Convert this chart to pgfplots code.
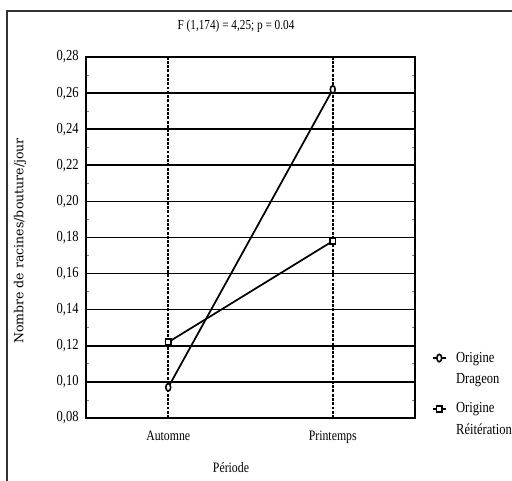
\documentclass[border=0pt]{standalone}
\usepackage{pgfplots}
\pgfplotsset{compat=1.18}
\usepackage{fontspec}
\setmainfont{Liberation Serif}[FakeStretch=0.82]
\newfontfamily\ylabfont{DejaVu Serif}
\begin{document}
\begin{tikzpicture}[x=0.75pt,y=0.75pt]
\useasboundingbox (0,0) rectangle (512,481);
\draw[line width=0.8pt, black!80] (7,-10) -- (7,470) -- (520,470);
\node[font=\fontsize{10.3}{11}\selectfont] at (236,455) {F (1,174) = 4,25; p = 0.04};
\node[font=\ylabfont\fontsize{9.4}{10}\selectfont, rotate=90] at (20,240) {Nombre de racines/bouture/jour};
\node[font=\fontsize{10.8}{11}\selectfont] at (231,13) {Période};
\begin{axis}[
  at={(86*0.75pt,63*0.75pt)}, anchor=south west,
  scale only axis, width=246.75pt, height=270.75pt,
  xmin=-0.5, xmax=1.5, ymin=0.08, ymax=0.28,
  xtick={0,1}, xticklabels={Automne,Printemps},
  ytick={0.08,0.10,...,0.28},
  minor y tick num=1,
  yticklabel style={/pgf/number format/use comma, /pgf/number format/fixed, /pgf/number format/fixed zerofill, /pgf/number format/precision=2, xshift=-2pt, font=\fontsize{11.5}{12}\selectfont},
  /pgf/number format/assume math mode=true,
  xticklabel style={font=\fontsize{10.8}{11}\selectfont, yshift=-6pt},
  ymajorgrids, xmajorgrids,
  y grid style={black, line width=1.2pt},
  x grid style={black, line width=1.2pt, dash pattern=on 2.2pt off 1pt},
  axis line style={line width=2pt},
  major tick length=0pt, minor tick length=2pt,
  minor tick style={line width=0.6pt},
  clip=false,
  legend style={draw=none, fill=none, at={(1.05,0.191)}, anchor=north west, font=\fontsize{11.5}{16}\selectfont, row sep=9pt, inner sep=0pt, cells={align=left}},
  legend cell align=left,
  legend image code/.code={\draw[#1, line width=1.3pt] (0pt,8pt) -- (10pt,8pt); \draw[#1] plot coordinates {(5pt,8pt)}; \path (15pt,0pt);},
]
\addplot[black, line width=1.3pt, mark=*, mark options={fill=white, line width=1.2pt, xscale=0.65}, mark size=2.8pt]
  coordinates {(0,0.097) (1,0.262)};
\addlegendentry{Origine\\Drageon}
\addplot[black, line width=1.3pt, mark=square*, mark options={fill=white, line width=1.2pt}, mark size=2.2pt]
  coordinates {(0,0.122) (1,0.178)};
\addlegendentry{Origine\\Réitération}
\end{axis}
\end{tikzpicture}
\end{document}
